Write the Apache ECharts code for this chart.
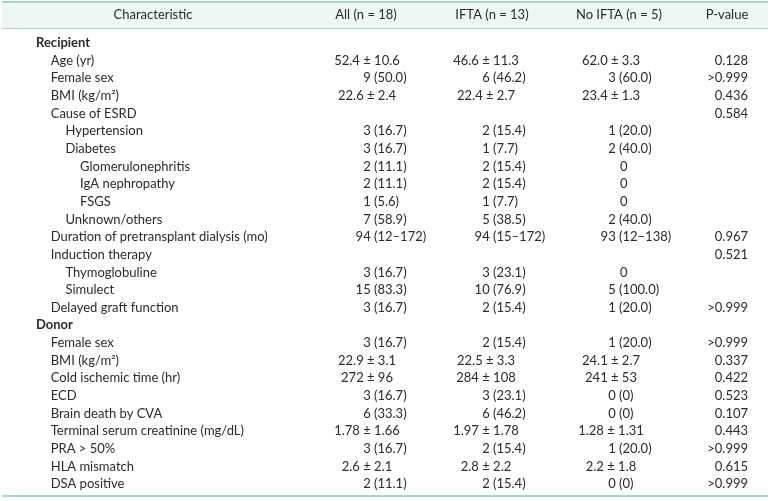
<!DOCTYPE html>
<html>
<head>
<meta charset="utf-8">
<script src="https://cdn.jsdelivr.net/npm/echarts@6/dist/echarts.min.js"></script>
<style>
html, body { margin: 0; padding: 0; background: #fff; }
#chart { width: 771px; height: 501px; }
</style>
</head>
<body>
<div id="chart"></div>
<script>
// table content, one entry per row
const headers = ['Characteristic', 'All (n = 18)', 'IFTA (n = 13)', 'No IFTA (n = 5)', 'P-value']
const characteristics = [
  'Recipient', 'Age (yr)', 'Female sex', 'BMI (kg/m²)', 'Cause of ESRD',
  'Hypertension', 'Diabetes', 'Glomerulonephritis', 'IgA nephropathy', 'FSGS',
  'Unknown/others', 'Duration of pretransplant dialysis (mo)', 'Induction therapy',
  'Thymoglobuline', 'Simulect', 'Delayed graft function',
  'Donor', 'Female sex', 'BMI (kg/m²)', 'Cold ischemic time (hr)', 'ECD',
  'Brain death by CVA', 'Terminal serum creatinine (mg/dL)', 'PRA > 50%',
  'HLA mismatch', 'DSA positive'
]
const levels = [0, 1, 1, 1, 1, 2, 2, 3, 3, 3, 2, 1, 1, 2, 2, 1, 0, 1, 1, 1, 1, 1, 1, 1, 1, 1]
const allGroup = [
  '', '52.4 ± 10.6', '9 (50.0)', '22.6 ± 2.4', '',
  '3 (16.7)', '3 (16.7)', '2 (11.1)', '2 (11.1)', '1 (5.6)',
  '7 (58.9)', '94 (12–172)', '', '3 (16.7)', '15 (83.3)', '3 (16.7)',
  '', '3 (16.7)', '22.9 ± 3.1', '272 ± 96', '3 (16.7)',
  '6 (33.3)', '1.78 ± 1.66', '3 (16.7)', '2.6 ± 2.1', '2 (11.1)'
]
const iftaGroup = [
  '', '46.6 ± 11.3', '6 (46.2)', '22.4 ± 2.7', '',
  '2 (15.4)', '1 (7.7)', '2 (15.4)', '2 (15.4)', '1 (7.7)',
  '5 (38.5)', '94 (15–172)', '', '3 (23.1)', '10 (76.9)', '2 (15.4)',
  '', '2 (15.4)', '22.5 ± 3.3', '284 ± 108', '3 (23.1)',
  '6 (46.2)', '1.97 ± 1.78', '2 (15.4)', '2.8 ± 2.2', '2 (15.4)'
]
const noIftaGroup = [
  '', '62.0 ± 3.3', '3 (60.0)', '23.4 ± 1.3', '',
  '1 (20.0)', '2 (40.0)', '0', '0', '0',
  '2 (40.0)', '93 (12–138)', '', '0', '5 (100.0)', '1 (20.0)',
  '', '1 (20.0)', '24.1 ± 2.7', '241 ± 53', '0 (0)',
  '0 (0)', '1.28 ± 1.31', '1 (20.0)', '2.2 ± 1.8', '0 (0)'
]
const pValues = [
  '', '0.128', '>0.999', '0.436', '0.584',
  '', '', '', '', '',
  '', '0.967', '0.521', '', '', '>0.999',
  '', '>0.999', '0.337', '0.422', '0.523',
  '0.107', '0.443', '>0.999', '0.615', '>0.999'
]
const sectionRows = [0, 16]

const FONT = 'Lato, "Open Sans", sans-serif'
const TEXT = '#2b2b2b'
const LINE = '#a5d8c6'

// column anchors: centre for "±" values, parenthesis position for counts
const valueCols = [
  { values: allGroup, center: 367, paren: 374 },
  { values: iftaGroup, center: 486, paren: 493 },
  { values: noIftaGroup, center: 611, paren: 619 }
]

function txt(x, y, str, align, bold) {
  return {
    type: 'text',
    style: {
      x: x, y: y, text: str,
      align: align, verticalAlign: 'middle',
      fontFamily: FONT, fontSize: 13,
      fontWeight: bold ? 'bold' : 'normal',
      fill: TEXT
    }
  }
}

function renderRow(params, api) {
  const i = params.dataIndex
  const y = api.coord([0, i])[1]
  const px = v => api.coord([v, i])[0]
  const children = []
  const bold = sectionRows.indexOf(i) >= 0
  children.push(txt(px(36 + 14.7 * levels[i]), y, characteristics[i], 'left', bold))
  valueCols.forEach(col => {
    const s = col.values[i]
    if (!s) return
    if (s.indexOf('±') >= 0) {
      children.push(txt(px(col.center), y, s, 'center'))
    } else if (s.indexOf('(') >= 0) {
      const k = s.indexOf('(')
      children.push(txt(px(col.paren - 3.3), y, s.slice(0, k).trim(), 'right'))
      children.push(txt(px(col.paren), y, s.slice(k), 'left'))
    } else {
      children.push(txt(px(col.paren + 1), y, s, 'left'))
    }
  })
  if (pValues[i]) children.push(txt(px(748), y, pValues[i], 'right'))
  return { type: 'group', children: children }
}

const headerX = [153, 366, 492, 619, 727]

const chart = echarts.init(document.getElementById('chart'))
chart.setOption({
  animation: false,
  grid: { left: 0, right: 0, top: 34.2, bottom: 8.2 },
  xAxis: { type: 'value', min: 0, max: 771, show: false },
  yAxis: {
    type: 'category', inverse: true, show: false,
    data: characteristics.map((c, i) => i)
  },
  graphic: [
    { type: 'rect', shape: { x: 2, y: 2, width: 766, height: 26 }, style: { fill: '#eef7f4' } },
    { type: 'line', shape: { x1: 2, y1: 2, x2: 768, y2: 2 }, style: { stroke: LINE, lineWidth: 2 } },
    { type: 'line', shape: { x1: 2, y1: 28.5, x2: 768, y2: 28.5 }, style: { stroke: LINE, lineWidth: 1 } },
    { type: 'line', shape: { x1: 2, y1: 496, x2: 768, y2: 496 }, style: { stroke: LINE, lineWidth: 2 } }
  ].concat(headers.map((h, j) => ({
    type: 'text',
    style: {
      x: headerX[j], y: 15, text: h, align: 'center', verticalAlign: 'middle',
      fontFamily: FONT, fontSize: 13, fill: TEXT
    }
  }))),
  series: [{
    type: 'custom',
    renderItem: renderRow,
    encode: { x: 0, y: 1 },
    data: characteristics.map((c, i) => [0, i]),
    silent: true
  }]
})
</script>
</body>
</html>
